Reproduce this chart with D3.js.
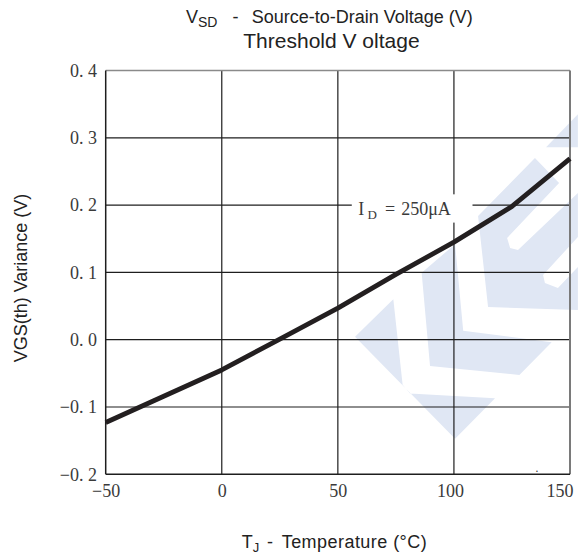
<!DOCTYPE html>
<html>
<head>
<meta charset="utf-8">
<script src="https://cdn.jsdelivr.net/npm/d3@7"></script>
<style>
  html, body { margin: 0; padding: 0; background: #fff; }
  svg { display: block; }
</style>
</head>
<body>
<svg id="chart" width="578" height="559"></svg>
<script>
// ---- data ----
const temperatures = [-50, -25, 0, 25, 50, 75, 100, 125, 150];
const vgsVariance = [-0.123, -0.084, -0.045, 0.001, 0.047, 0.097, 0.145, 0.198, 0.269];
const xTicks = [-50, 0, 50, 100, 150];
const xTickLabels = ["\u221250", "0", "50", "100", "150"];
const yTicks = [-0.2, -0.1, 0.0, 0.1, 0.2, 0.3, 0.4];
const yTickLabels = ["\u22120. 2", "\u22120. 1", "0. 0", "0. 1", "0. 2", "0. 3", "0. 4"];
// watermark logo outlines in data units [T, V]
const logoA = [[57.4,0.0045],[73.9,0.060],[77.9,-0.067],[81.1,-0.080],[117.7,-0.087],[100.5,-0.147]];
const logoB = [[86.1,0.0996],[100.5,0.142],[104.0,0.0134],[142.1,-0.0039],[128.2,-0.0524],[89.7,-0.039]];
const logoC = [[110.4,0.1838],[134.9,0.270],[145.3,0.2328],[122.9,0.1511],[124.2,0.1363],[127.6,0.1333],
               [153.4,0.218],[153.4,0.1526],[138.4,0.0961],[139.2,0.0843],[144.8,0.0768],[153.4,0.108],
               [153.4,0.0441],[114.7,0.0486]];
const logoD = [[139.7,0.286],[153.4,0.335],[153.4,0.286]];

(function () {
// ---- layout ----
const svg = d3.select("#chart");
const pL = 105.7, pR = 570, pT = 70.5, pB = 474.3;
const x = d3.scaleLinear().domain([-50, 150]).range([pL, pR]);
const y = d3.scaleLinear().domain([-0.2, 0.4]).range([pB, pT]);

// watermark
const poly = d3.line().x(d => x(d[0])).y(d => y(d[1]));
svg.append("g").selectAll("path").data([logoA, logoB, logoC, logoD]).join("path")
  .attr("d", d => poly(d) + "Z")
  .attr("fill", "#e0e7f4");

// gridlines
const grid = svg.append("g").attr("stroke", "#1e1e1e").attr("stroke-width", 1.2);
grid.selectAll("line.v").data(xTicks.slice(1, -1)).join("line").attr("class", "v")
  .attr("x1", d => x(d)).attr("x2", d => x(d)).attr("y1", pT).attr("y2", pB);
grid.selectAll("line.h").data(yTicks.slice(1, -1)).join("line").attr("class", "h")
  .attr("x1", pL).attr("x2", pR).attr("y1", d => y(d)).attr("y2", d => y(d));

// frame
svg.append("line").attr("x1", pL).attr("x2", pR).attr("y1", pT).attr("y2", pT)
  .attr("stroke", "#8a8a8a").attr("stroke-width", 1.5);
svg.append("line").attr("x1", pR).attr("x2", pR).attr("y1", pT).attr("y2", pB)
  .attr("stroke", "#7a7a7a").attr("stroke-width", 2);
svg.append("line").attr("x1", pL).attr("x2", pL).attr("y1", pT).attr("y2", pB)
  .attr("stroke", "#1e1e1e").attr("stroke-width", 1.5);
svg.append("line").attr("x1", pL).attr("x2", pR).attr("y1", pB).attr("y2", pB)
  .attr("stroke", "#1e1e1e").attr("stroke-width", 1.5);

// curve
const line = d3.line().x((d, i) => x(temperatures[i])).y(d => y(d));
svg.append("path").datum(vgsVariance)
  .attr("d", line)
  .attr("fill", "none").attr("stroke", "#231f20").attr("stroke-width", 4.8)
  .attr("stroke-linejoin", "round");

// annotation with white box
svg.append("rect").attr("x", x(56)).attr("y", y(0.216)).attr("width", x(108) - x(56))
  .attr("height", y(0.174) - y(0.216)).attr("fill", "#fff");
const serif = "Liberation Serif, serif";
const ann = svg.append("text").attr("y", y(0.185))
  .attr("font-family", serif).attr("font-size", 18).attr("fill", "#3a3a3a");
ann.append("tspan").attr("x", x(58.8)).text("I");
ann.append("tspan").attr("x", x(62.8)).attr("font-size", 13).attr("dy", 4).text("D");
ann.append("tspan").attr("x", x(70.3)).attr("dy", -4).text("=");
ann.append("tspan").attr("x", x(77.3)).text("250\u03bcA");

// y tick labels
const yAxis = d3.axisLeft(y).tickValues(yTicks).tickSize(0).tickPadding(8.7)
  .tickFormat((d, i) => yTickLabels[i]);
const gy = svg.append("g").attr("transform", `translate(${pL},0)`).call(yAxis);
gy.select(".domain").remove();
gy.selectAll("text").attr("font-family", serif).attr("font-size", 18).attr("fill", "#3a3a3a");

// x tick labels
const xAxis = d3.axisBottom(x).tickValues(xTicks).tickSize(0).tickPadding(9.5)
  .tickFormat((d, i) => xTickLabels[i]);
const gx = svg.append("g").attr("transform", `translate(0,${pB})`).call(xAxis);
gx.select(".domain").remove();
gx.selectAll("text").attr("font-family", serif).attr("font-size", 18).attr("fill", "#3a3a3a")
  .attr("text-anchor", (d, i) => i === xTicks.length - 1 ? "end" : "middle")
  .attr("dx", (d, i) => i === xTicks.length - 1 ? 3 : (i === 3 ? -4 : 0));

// small dot artifact
svg.append("text").attr("x", x(135)).attr("y", y(-0.196)).attr("font-size", 12)
  .attr("font-family", "Liberation Sans, Arial, sans-serif").attr("fill", "#333").text(".");

// titles
const sans = "Liberation Sans, Arial, sans-serif";
const t1 = svg.append("text").attr("y", 23.3).attr("font-family", sans).attr("font-size", 18).attr("fill", "#222");
t1.append("tspan").attr("x", 186).text("V");
t1.append("tspan").attr("font-size", 14).attr("dy", 4).text("SD");
t1.append("tspan").attr("x", 232.5).attr("dy", -4).text("-");
t1.append("tspan").attr("x", 251.7).text("Source-to-Drain Voltage (V)");

svg.append("text").attr("x", 243.3).attr("y", 48.3).attr("font-family", sans).attr("font-size", 21)
  .attr("fill", "#222").text("Threshold V oltage");

const xl = svg.append("text").attr("y", 548.3).attr("font-family", sans).attr("font-size", 18).attr("fill", "#222");
xl.append("tspan").attr("x", 241.7).text("T");
xl.append("tspan").attr("font-size", 13).attr("dy", 4).text("J");
xl.append("tspan").attr("x", 267).attr("dy", -4).text("-");
xl.append("tspan").attr("x", 281.7).attr("textLength", 145).attr("lengthAdjust", "spacing").text("Temperature (\u00b0C)");

svg.append("text").attr("transform", "translate(26.5,278) rotate(-90)").attr("text-anchor", "middle")
  .attr("font-family", sans).attr("font-size", 18).attr("fill", "#222").text("VGS(th) Variance (V)");
})();
</script>
</body>
</html>
